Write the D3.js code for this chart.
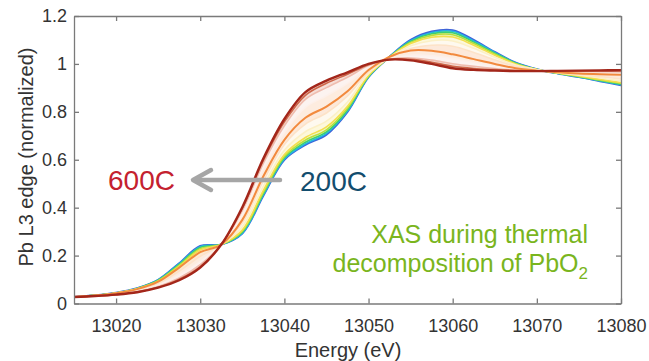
<!DOCTYPE html>
<html>
<head>
<meta charset="utf-8">
<script src="https://cdn.jsdelivr.net/npm/d3@7"></script>
<style>
  body { margin: 0; background: #fff; }
  svg { display: block; font-family: Arial, "Liberation Sans", Helvetica, sans-serif; }
</style>
</head>
<body>
<svg id="chart" width="649" height="361"></svg>
<script>
// Photon energy grid (eV)
const energy = [13015, 13017.5, 13020, 13022.5, 13025, 13027.5, 13030, 13032.5, 13035,
  13037.5, 13040, 13042.5, 13045, 13047.5, 13050, 13052.5, 13055, 13057.5, 13060,
  13062.5, 13065, 13067.5, 13070, 13072.5, 13075, 13077.5, 13080];

// Normalized Pb L3-edge absorption, one scan per temperature step (200C -> 600C)
const scan200C = [0.027, 0.034, 0.045, 0.064, 0.099, 0.168, 0.240, 0.246, 0.292, 0.450, 0.600, 0.662, 0.705, 0.800, 0.945, 1.030, 1.100, 1.135, 1.141, 1.100, 1.050, 1.005, 0.978, 0.960, 0.945, 0.928, 0.911];
const scan02 = [0.027, 0.034, 0.045, 0.063, 0.098, 0.166, 0.237, 0.246, 0.294, 0.453, 0.603, 0.666, 0.710, 0.803, 0.946, 1.030, 1.097, 1.131, 1.136, 1.096, 1.048, 1.004, 0.978, 0.960, 0.946, 0.929, 0.913];
const scan03 = [0.027, 0.034, 0.044, 0.063, 0.097, 0.163, 0.234, 0.246, 0.298, 0.458, 0.608, 0.673, 0.716, 0.808, 0.948, 1.029, 1.094, 1.126, 1.130, 1.091, 1.045, 1.003, 0.977, 0.961, 0.947, 0.931, 0.915];
const scan04 = [0.027, 0.034, 0.044, 0.062, 0.095, 0.159, 0.229, 0.246, 0.302, 0.464, 0.614, 0.682, 0.725, 0.815, 0.950, 1.029, 1.090, 1.119, 1.122, 1.085, 1.041, 1.001, 0.977, 0.961, 0.948, 0.933, 0.919];
const scan05 = [0.027, 0.033, 0.044, 0.061, 0.093, 0.155, 0.223, 0.246, 0.307, 0.472, 0.622, 0.693, 0.737, 0.823, 0.953, 1.028, 1.085, 1.111, 1.112, 1.078, 1.036, 0.999, 0.977, 0.962, 0.950, 0.936, 0.922];
const scan06 = [0.027, 0.033, 0.043, 0.059, 0.089, 0.146, 0.211, 0.246, 0.320, 0.489, 0.640, 0.717, 0.761, 0.841, 0.959, 1.027, 1.076, 1.097, 1.096, 1.065, 1.028, 0.995, 0.976, 0.963, 0.953, 0.941, 0.929];
const scan07 = [0.027, 0.033, 0.041, 0.056, 0.084, 0.135, 0.197, 0.246, 0.336, 0.512, 0.664, 0.749, 0.795, 0.866, 0.967, 1.025, 1.064, 1.078, 1.074, 1.048, 1.017, 0.990, 0.975, 0.965, 0.956, 0.947, 0.937];
const scan08 = [0.027, 0.033, 0.043, 0.060, 0.091, 0.150, 0.214, 0.246, 0.349, 0.531, 0.683, 0.775, 0.822, 0.886, 0.975, 1.030, 1.056, 1.055, 1.040, 1.020, 1.000, 0.982, 0.972, 0.965, 0.960, 0.957, 0.955];
const scan09 = [0.027, 0.032, 0.039, 0.052, 0.076, 0.118, 0.175, 0.246, 0.371, 0.562, 0.715, 0.819, 0.867, 0.919, 0.985, 1.021, 1.036, 1.034, 1.022, 1.006, 0.992, 0.979, 0.972, 0.968, 0.965, 0.962, 0.958];
const scan10 = [0.027, 0.031, 0.038, 0.050, 0.071, 0.107, 0.162, 0.246, 0.388, 0.585, 0.742, 0.852, 0.901, 0.944, 0.993, 1.019, 1.025, 1.016, 1.001, 0.990, 0.981, 0.974, 0.971, 0.970, 0.969, 0.968, 0.966];
const scan11 = [0.027, 0.031, 0.037, 0.048, 0.068, 0.101, 0.154, 0.246, 0.397, 0.597, 0.758, 0.869, 0.919, 0.957, 0.997, 1.019, 1.019, 1.007, 0.990, 0.981, 0.976, 0.972, 0.970, 0.970, 0.971, 0.971, 0.971];
const scan600C = [0.027, 0.031, 0.037, 0.047, 0.066, 0.097, 0.150, 0.246, 0.402, 0.605, 0.770, 0.882, 0.930, 0.965, 1.000, 1.018, 1.015, 1.000, 0.982, 0.975, 0.972, 0.970, 0.970, 0.971, 0.972, 0.973, 0.974];

const scans = [scan200C, scan02, scan03, scan04, scan05, scan06, scan07, scan08, scan09, scan10, scan11, scan600C];
const scanColors = ["#3f63d8", "#22b4e6", "#3ccf72", "#b6e03c", "#f4de4c", "#fcf0c6", "#fde3c8",
  "#f28a3e", "#fdf0ea", "#efbcae", "#cd6648", "#a3261a"];
const scanWidths = [2, 1.6, 1.6, 1.6, 1.6, 1.6, 1.6, 2, 1.6, 1.6, 1.6, 2.4];

const xTicks = [13020, 13030, 13040, 13050, 13060, 13070, 13080];
const yTicks = [0, 0.2, 0.4, 0.6, 0.8, 1, 1.2];

const svg = d3.select("#chart");
const x = d3.scaleLinear().domain([13015, 13080]).range([74, 621]);
const y = d3.scaleLinear().domain([0, 1.2]).range([303.5, 16]);

const clipId = "plot-area";
svg.append("clipPath").attr("id", clipId)
  .append("rect").attr("x", 74).attr("y", 16).attr("width", 547).attr("height", 287.5);

const plot = svg.append("g").attr("clip-path", `url(#${clipId})`);
const smooth = d3.curveCatmullRom.alpha(0.5);

// pale fill between neighbouring scans so the family reads as one band
const area = d3.area()
  .x((d, i) => x(energy[i]))
  .y0(d => d[0]).y1(d => d[1])
  .curve(smooth);
for (let k = 0; k < scans.length - 1; k++) {
  const pair = energy.map((e, i) => [y(scans[k][i]), y(scans[k + 1][i])]);
  const c = d3.interpolateRgb(scanColors[k], scanColors[k + 1])(0.5);
  plot.append("path")
    .attr("d", area(pair))
    .attr("fill", d3.interpolateRgb(c, "#ffffff")(0.6))
    .attr("opacity", 0.75);
}

const line = d3.line()
  .x((d, i) => x(energy[i]))
  .y(d => y(d))
  .curve(smooth);

const drawOrder = [0, 1, 2, 3, 4, 5, 6, 8, 9, 7, 10, 11];
drawOrder.forEach(k => {
  plot.append("path")
    .attr("d", line(scans[k]))
    .attr("fill", "none")
    .attr("stroke", scanColors[k])
    .attr("stroke-width", scanWidths[k])
    .attr("stroke-linejoin", "round");
});

// axes with inward ticks and a closed box
const frameColor = "#7a7a7a";
const textColor = "#333333";

function styleAxis(g) {
  g.selectAll(".domain").attr("stroke", frameColor).attr("stroke-width", 1.3);
  g.selectAll(".tick line").attr("stroke", frameColor).attr("stroke-width", 1.3);
  g.selectAll(".tick text").attr("fill", textColor).attr("font-size", 18)
    .attr("font-family", "Arial, 'Liberation Sans', sans-serif");
}

svg.append("g").attr("transform", "translate(0,303.5)")
  .call(d3.axisBottom(x).tickValues(xTicks).tickFormat(d3.format("d"))
    .tickSizeInner(-5).tickSizeOuter(0).tickPadding(16))
  .call(styleAxis);
svg.append("g").attr("transform", "translate(0,16)")
  .call(d3.axisTop(x).tickValues(xTicks).tickFormat("")
    .tickSizeInner(-5).tickSizeOuter(0))
  .call(styleAxis);
svg.append("g").attr("transform", "translate(74,0)")
  .call(d3.axisLeft(y).tickValues(yTicks).tickFormat(d => d === 0 || d === 1 ? d3.format("d")(d) : d3.format(".1f")(d))
    .tickSizeInner(-5).tickSizeOuter(0).tickPadding(7))
  .call(styleAxis);
svg.append("g").attr("transform", "translate(621,0)")
  .call(d3.axisRight(y).tickValues(yTicks).tickFormat("")
    .tickSizeInner(-5).tickSizeOuter(0))
  .call(styleAxis);

// axis titles
svg.append("text")
  .attr("x", 348).attr("y", 357)
  .attr("text-anchor", "middle")
  .attr("font-size", 20).attr("fill", textColor)
  .text("Energy (eV)");
svg.append("text")
  .attr("transform", "translate(33,157) rotate(-90)")
  .attr("text-anchor", "middle")
  .attr("font-size", 20).attr("fill", textColor)
  .text("Pb L3 edge (normalized)");

// temperature annotation
svg.append("text")
  .attr("x", 108).attr("y", 190)
  .attr("font-size", 28).attr("fill", "#c4212f")
  .text("600C");
svg.append("text")
  .attr("x", 300).attr("y", 191)
  .attr("font-size", 28).attr("fill", "#134d6e")
  .text("200C");

const arrow = svg.append("g")
  .attr("stroke", "#a6a6a6").attr("stroke-width", 4.5)
  .attr("fill", "none").attr("stroke-linecap", "round").attr("stroke-linejoin", "round");
arrow.append("line").attr("x1", 280).attr("y1", 180).attr("x2", 195).attr("y2", 180);
arrow.append("path").attr("d", "M211,170 L193,180 L211,190");

// caption
const cap = svg.append("g").attr("fill", "#7ab51d").attr("font-size", 25).attr("text-anchor", "end");
cap.append("text").attr("x", 588).attr("y", 243).text("XAS during thermal");
const line2 = cap.append("text").attr("x", 588).attr("y", 272);
line2.append("tspan").text("decomposition of PbO");
line2.append("tspan").attr("font-size", 17).attr("dy", 7).text("2");
</script>
</body>
</html>
